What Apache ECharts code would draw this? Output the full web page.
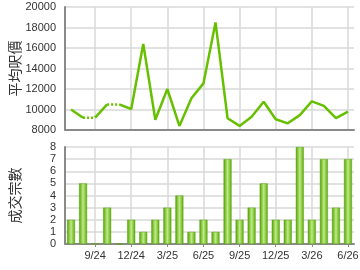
<!DOCTYPE html>
<html><head><meta charset="utf-8">
<script src="https://cdn.jsdelivr.net/npm/echarts@6/dist/echarts.min.js"></script>
<style>html,body{margin:0;padding:0;background:#fff}#c{width:360px;height:270px}</style>
</head><body><div id="c"></div>
<script>
const months = ['7/24','8/24','9/24','10/24','11/24','12/24','1/25','2/25','3/25','4/25','5/25','6/25','7/25','8/25','9/25','10/25','11/25','12/25','1/26','2/26','3/26','4/26','5/26','6/26'];
const avgPrice = [10000,9200,9200,10500,10500,10050,16400,9000,12000,8400,11100,12550,18500,9150,8400,9300,10750,9050,8650,9450,10800,10350,9150,9800];
const deals = [2,5,0,3,0,2,1,2,3,4,1,2,1,7,2,3,5,2,2,8,2,7,3,7];
const priceTicks = {min:8000,max:20000,interval:2000};
const dealTicks = {min:0,max:8,interval:1};

const font = '"Liberation Sans", Arial, sans-serif';
const cjk = '"Noto Sans CJK TC", "Liberation Sans", sans-serif';
const showIdx = (i) => i % 3 === 2;
const green = '#66c000';

// build line segments: segment into a month with zero deals is dotted
const lineSeries = [];
let run = null, runType = null;
for (let i = 0; i < avgPrice.length - 1; i++) {
  const t = deals[i+1] === 0 ? 'dotted' : 'solid';
  if (run && runType === t && run.end === i) { run.end = i+1; }
  else { if (run) lineSeries.push({run, runType}); run = {start:i, end:i+1}; runType = t; }
}
if (run) lineSeries.push({run, runType});

const series = lineSeries.map(({run, runType}) => ({
  type:'line', xAxisIndex:0, yAxisIndex:0, symbol:'none', silent:true,
  data: avgPrice.map((v,i) => (i>=run.start && i<=run.end) ? v : null),
  lineStyle:{color:green, width:2.5, type: runType==='dotted' ? [2,2] : 'solid'},
  z: runType==='dotted' ? 3 : 2
}));
series.push({
  type:'bar', xAxisIndex:1, yAxisIndex:1, barWidth:8, data:deals,
  itemStyle:{
    color:{type:'linear',x:0,y:0,x2:1,y2:0,colorStops:[
      {offset:0,color:'#4c9a08'},{offset:0.25,color:'#86c83a'},{offset:0.5,color:'#c0e88c'},
      {offset:0.75,color:'#8ccc40'},{offset:1,color:'#56a20e'}]},
    borderColor:'#5aa612', borderWidth:0.5
  }
});

const xBase = (gi, labels) => ({
  type:'category', gridIndex:gi, data:months, boundaryGap:true,
  axisLine:{show:true, lineStyle:{color:'#8a8a8a', width:2}},
  axisTick:{show:labels, alignWithLabel:true, interval:(i)=>showIdx(i), length:3, lineStyle:{color:'#8a8a8a'}},
  axisLabel:{show:labels, interval:(i)=>showIdx(i), color:'#333', fontSize:11, fontFamily:font, margin:6},
  splitLine:{show:true, alignWithLabel:true, interval:(i)=>showIdx(i), lineStyle:{color:'#d9d9d9', width:1.5}}
});
const yBase = (gi, t, name) => ({
  type:'value', gridIndex:gi, min:t.min, max:t.max, interval:t.interval,
  name:name, nameLocation:'middle', nameRotate:90, nameGap:43, nameMoveOverlap:false,
  nameTextStyle:{fontFamily:cjk, fontSize:14, color:'#333'},
  axisLine:{show:true, lineStyle:{color:'#8a8a8a', width:2}},
  axisTick:{show:false},
  axisLabel:{color:'#333', fontSize:11, fontFamily:font, margin:9, formatter:(v)=>String(v)},
  splitLine:{show:true, lineStyle:{color:'#d9d9d9', width:1.5}}
});

const chart = echarts.init(document.getElementById('c'), null, {renderer:'canvas'});
chart.setOption({
  animation:false,
  grid:[{left:65,right:6,top:7,height:123,outerBoundsMode:'none',containLabel:false},
        {left:65,right:6,top:147,height:97,outerBoundsMode:'none',containLabel:false}],
  xAxis:[xBase(0,false), xBase(1,true)],
  yAxis:[yBase(0,priceTicks,'平均呎價'), yBase(1,dealTicks,'成交宗數')],
  series:series
});
</script></body></html>
